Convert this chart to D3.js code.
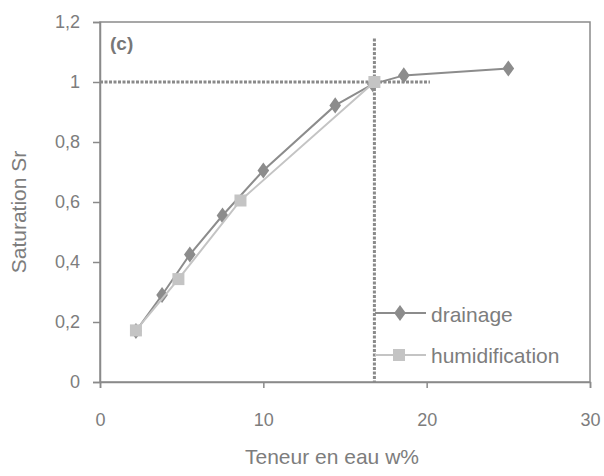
<!DOCTYPE html>
<html><head><meta charset="utf-8">
<script src="https://cdn.jsdelivr.net/npm/d3@7"></script>
<style>body{margin:0;background:#fff}svg{display:block}</style>
</head><body>
<script>
const drainageX = [2.2, 3.8, 5.5, 7.5, 10.0, 14.4, 16.7, 18.6, 25.0];
const drainageY = [0.17, 0.29, 0.425, 0.555, 0.705, 0.922, 0.993, 1.022, 1.045];
const humidX = [2.2, 4.8, 8.6, 16.8];
const humidY = [0.172, 0.343, 0.605, 1.0];
const xTicks = [0, 10, 20, 30];
const yTicks = [0, 0.2, 0.4, 0.6, 0.8, 1, 1.2];
const refX = 16.8, refY = 1.0;

const W = 604, H = 476;
const m = {l: 100, r: 14, t: 22, b: 94};
const svg = d3.select("body").append("svg").attr("width", W).attr("height", H);
const x = d3.scaleLinear().domain([0, 30]).range([m.l, W - m.r]);
const y = d3.scaleLinear().domain([0, 1.2]).range([H - m.b, m.t]);
const axisCol = "#8a8a8a", textCol = "#7d7d7d";
const font = "Arial, 'Liberation Sans', sans-serif";

// frame
svg.append("rect").attr("x", x(0)).attr("y", y(1.2)).attr("width", x(30) - x(0)).attr("height", y(0) - y(1.2))
  .attr("fill", "none").attr("stroke", axisCol).attr("stroke-width", 1.5);

const fmt = d => String(d).replace(".", ",");
const ya = svg.append("g").attr("transform", `translate(${x(0)},0)`)
  .call(d3.axisLeft(y).tickValues(yTicks).tickFormat(fmt).tickSize(7).tickPadding(13));
const xa = svg.append("g").attr("transform", `translate(0,${y(0)})`)
  .call(d3.axisBottom(x).tickValues(xTicks).tickFormat(d3.format("d")).tickSize(6).tickPadding(25));
[ya, xa].forEach(g => {
  g.select(".domain").attr("stroke", axisCol).attr("stroke-width", 1.5);
  g.selectAll(".tick line").attr("stroke", axisCol).attr("stroke-width", 1.5);
  g.selectAll("text").attr("fill", textCol).style("font-family", font).style("font-size", "18px");
});

// reference dotted lines
svg.append("line").attr("x1", x(0)).attr("x2", x(20.2)).attr("y1", y(refY)).attr("y2", y(refY))
  .attr("stroke", "#8a8a8a").attr("stroke-width", 3).attr("stroke-dasharray", "3,1.5");
svg.append("line").attr("x1", x(refX)).attr("x2", x(refX)).attr("y1", y(1.145)).attr("y2", y(0))
  .attr("stroke", "#8a8a8a").attr("stroke-width", 3).attr("stroke-dasharray", "3,1.5");

const line = d3.line().x(d => x(d[0])).y(d => y(d[1]));
const dData = drainageX.map((v, i) => [v, drainageY[i]]);
const hData = humidX.map((v, i) => [v, humidY[i]]);
const dCol = "#8c8c8c", hCol = "#c4c4c4";

svg.append("path").datum(dData).attr("d", line).attr("fill", "none").attr("stroke", dCol).attr("stroke-width", 2);
svg.selectAll(".dm").data(dData).join("path").attr("class", "dm")
  .attr("d", d3.symbol(d3.symbolDiamond, 75)).attr("transform", d => `translate(${x(d[0])},${y(d[1])}) scale(1.25,1)`)
  .attr("fill", dCol);
svg.append("path").datum(hData).attr("d", line).attr("fill", "none").attr("stroke", hCol).attr("stroke-width", 2);
svg.selectAll(".hm").data(hData).join("rect").attr("class", "hm")
  .attr("x", d => x(d[0]) - 6).attr("y", d => y(d[1]) - 6).attr("width", 12).attr("height", 12)
  .attr("fill", hCol);

// legend
const leg = [{name: "drainage", col: dCol, sym: "d", yy: 313, ty: 322}, {name: "humidification", col: hCol, sym: "s", yy: 355, ty: 363}];
leg.forEach(l => {
  svg.append("line").attr("x1", 375).attr("x2", 426).attr("y1", l.yy).attr("y2", l.yy).attr("stroke", l.col).attr("stroke-width", 2);
  if (l.sym === "d") svg.append("path").attr("d", d3.symbol(d3.symbolDiamond, 75)).attr("transform", `translate(400,${l.yy}) scale(1.25,1)`).attr("fill", l.col);
  else svg.append("rect").attr("x", 393).attr("y", l.yy - 6).attr("width", 12).attr("height", 12).attr("fill", l.col);
  svg.append("text").attr("x", 431).attr("y", l.ty).text(l.name).attr("fill", textCol)
    .style("font-family", font).style("font-size", "21px");
});

svg.append("text").attr("x", 110).attr("y", 50).text("(c)").attr("fill", "#777")
  .style("font-family", font).style("font-size", "19px").style("font-weight", "bold");
svg.append("text").attr("x", 332).attr("y", 464).attr("text-anchor", "middle")
  .text("Teneur en eau w%").attr("fill", textCol).style("font-family", font).style("font-size", "21px");
svg.append("text").attr("transform", `translate(26,212) rotate(-90)`).attr("text-anchor", "middle")
  .text("Saturation Sr").attr("fill", textCol).style("font-family", font).style("font-size", "21px");
</script>
</body></html>
